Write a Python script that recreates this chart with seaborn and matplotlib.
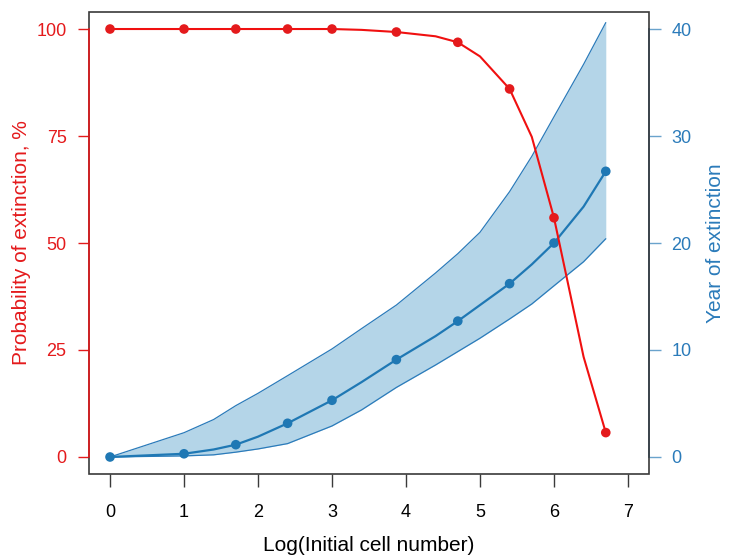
import numpy as np
import pandas as pd
import matplotlib
matplotlib.use("Agg")
import matplotlib.pyplot as plt
from matplotlib.patches import Rectangle
import seaborn as sns

sns.set_style("white")
plt.rcParams['font.family'] = ['Liberation Sans', 'DejaVu Sans']

# line data (x grid of simulations)
log_cells = [0, 1, 1.4, 1.7, 2, 2.4, 3, 3.4, 3.87, 4.4, 4.7, 5, 5.4, 5.7, 6, 6.4, 6.7]
prob_ext = [100, 100, 100, 100, 100, 100, 100, 99.8, 99.3, 98.3, 96.9, 93.6, 86.0, 74.8, 55.9, 23.4, 5.7]
year_mean = [0, 0.3, 0.7, 1.15, 1.9, 3.15, 5.3, 7.0, 9.1, 11.3, 12.7, 14.2, 16.2, 18.0, 20.0, 23.4, 26.7]
year_upper = [0, 2.27, 3.5, 4.8, 5.95, 7.6, 10.1, 12.0, 14.2, 17.2, 19.0, 21.0, 24.8, 28.1, 31.8, 36.7, 40.6]
year_lower = [0, 0.1, 0.2, 0.45, 0.75, 1.25, 2.9, 4.4, 6.5, 8.6, 9.85, 11.1, 12.9, 14.3, 16.0, 18.25, 20.4]

# marked points
mark_x = [0, 1, 1.7, 2.4, 3, 3.87, 4.7, 5.4, 6, 6.7]
mark_prob = [100, 100, 100, 100, 100, 99.3, 96.9, 86.0, 55.9, 5.7]
mark_year = [0, 0.3, 1.15, 3.15, 5.3, 9.1, 12.7, 16.2, 20.0, 26.7]

x_ticks = [0, 1, 2, 3, 4, 5, 6, 7]
prob_ticks = [0, 25, 50, 75, 100]
year_ticks = [0, 10, 20, 30, 40]

RED = "#e41a1c"
LINE_RED = "#f01010"
BLUE = "#1f78b4"
EDGE_BLUE = "#2b7bba"
FILL = "#b4d5e8"
SPINE_BLUE = "#3a78a8"
GRAY = "#3a3a3a"

fig = plt.figure(figsize=(7.30, 5.56), dpi=100)
ax = fig.add_axes([89.3/730, 1-474.1/556, (648.7-89.3)/730, (474.1-11.9)/556])
ax2 = ax.twinx()
ax.set_zorder(2)
ax2.set_zorder(1)
ax.patch.set_visible(False)

# blue (years) on ax2
ax2.fill_between(log_cells, year_lower, year_upper, color=FILL, linewidth=0, zorder=1)
sns.lineplot(x=log_cells, y=year_upper, ax=ax2, color=EDGE_BLUE, linewidth=0.9, estimator=None, sort=False, zorder=2)
sns.lineplot(x=log_cells, y=year_lower, ax=ax2, color=EDGE_BLUE, linewidth=0.9, estimator=None, sort=False, zorder=2)
sns.lineplot(x=log_cells, y=year_mean, ax=ax2, color=BLUE, linewidth=1.6, estimator=None, sort=False, zorder=3)
sns.scatterplot(x=mark_x, y=mark_year, ax=ax2, color=BLUE, s=48, edgecolor="none", zorder=4)

# red (probability) on ax
sns.lineplot(x=log_cells, y=prob_ext, ax=ax, color=LINE_RED, linewidth=1.5, estimator=None, sort=False, zorder=3)
sns.scatterplot(x=mark_x, y=mark_prob, ax=ax, color=RED, s=48, edgecolor="none", zorder=4)

ax.set_xlim(-0.28, 7.28)
ax.set_ylim(-4, 104)
ax2.set_ylim(-1.6, 41.6)

ax.set_xticks(x_ticks)
ax.set_yticks(prob_ticks)
ax2.set_yticks(year_ticks)

# spines
for s in ax.spines.values():
    s.set_visible(False)
for s in ax2.spines.values():
    s.set_visible(False)
box = Rectangle((0, 0), 1, 1, transform=ax.transAxes, fill=False, edgecolor=GRAY,
                linewidth=1.2, clip_on=False, zorder=1)
ax.add_patch(box)
ax.spines['left'].set_visible(True)
ax.spines['left'].set_color(RED)
ax.spines['left'].set_linewidth(1.2)
ax.spines['left'].set_bounds(0, 100)
ax.spines['left'].set_zorder(5)
ax2.spines['right'].set_visible(True)
ax2.spines['right'].set_color(SPINE_BLUE)
ax2.spines['right'].set_linewidth(1.3)
ax2.spines['right'].set_bounds(0, 40)

ax.tick_params(axis='x', direction='out', length=9, width=1, color=GRAY, labelsize=13,
               pad=12.5, labelcolor='black', bottom=True)
ax.tick_params(axis='y', direction='out', length=8, width=1, color=RED, labelsize=13,
               pad=8.4, labelcolor=RED, left=True)
ax2.tick_params(axis='y', direction='out', length=8.4, width=1, color="#6aa3cc", labelsize=13,
                pad=8, labelcolor=EDGE_BLUE, right=True)

ax.set_xlabel("Log(Initial cell number)", fontsize=15, color='black', labelpad=10.5)
ax.set_ylabel("Probability of extinction, %", fontsize=15, color=RED, labelpad=3.5)
ax2.set_ylabel("Year of extinction", fontsize=15, color=EDGE_BLUE, labelpad=10.6)
ax.grid(False)
ax2.grid(False)

fig.savefig("out.png", dpi=100)
